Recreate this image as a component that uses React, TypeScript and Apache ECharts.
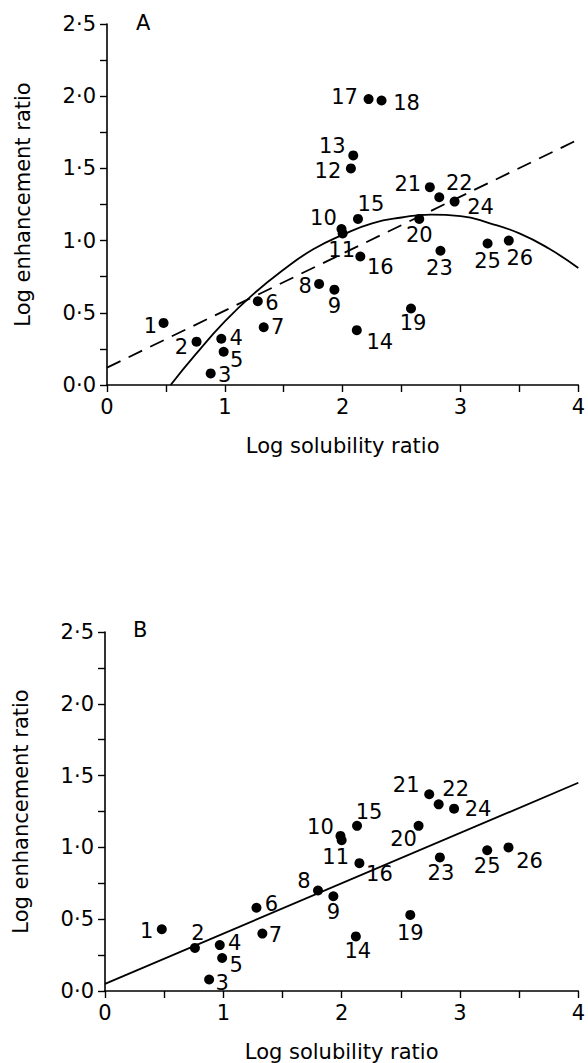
import React, { useEffect, useRef } from "react";
import * as echarts from "echarts";

// Compound numbers
const names = ["1","2","3","4","5","6","7","8","9","10","11","12","13","14","15","16","17","18","19","20","21","22","23","24","25","26"];
// Log solubility ratio
const xVals = [0.48, 0.76, 0.88, 0.97, 0.99, 1.28, 1.33, 1.80, 1.93, 1.99, 2.00, 2.07, 2.09, 2.12, 2.13, 2.15, 2.22, 2.33, 2.58, 2.65, 2.74, 2.82, 2.83, 2.95, 3.23, 3.41];
// Log enhancement ratio
const yVals = [0.43, 0.30, 0.08, 0.32, 0.23, 0.58, 0.40, 0.70, 0.66, 1.08, 1.05, 1.50, 1.59, 0.38, 1.15, 0.89, 1.98, 1.97, 0.53, 1.15, 1.37, 1.30, 0.93, 1.27, 0.98, 1.00];
// Compounds left out of panel B
const excludedB = ["12", "13", "17", "18"];

// Panel A fitted curve
const curveAx = [0.54, 0.75, 1.0, 1.25, 1.5, 1.75, 2.0, 2.25, 2.5, 2.75, 3.0, 3.25, 3.5, 3.75, 4.0];
const curveAy = [0.0, 0.21, 0.44, 0.635, 0.80, 0.94, 1.04, 1.12, 1.16, 1.18, 1.17, 1.12, 1.05, 0.945, 0.81];
// Panel A dashed line end points
const dashAx = [0, 4];
const dashAy = [0.12, 1.70];
// Panel B regression line end points
const lineBx = [0, 4];
const lineBy = [0.05, 1.45];

const xTicks = [0, 1, 2, 3, 4];
const yTicks = [0, 0.5, 1.0, 1.5, 2.0, 2.5];

// label offsets (style only), pixels from the dot centre
const labelOffA: Record<string, number[]> = {
  "1": [-13, 3], "2": [-15, 5], "3": [14, 2], "4": [15, -1], "5": [13, 8], "6": [14, 2], "7": [14, 0],
  "8": [-14, 2], "9": [0, 16], "10": [-18, -11], "11": [-1, 17], "12": [-23, 3], "13": [-21, -9],
  "14": [23, 12], "15": [13, -15], "16": [20, 11], "17": [-24, -2], "18": [25, 2], "19": [2, 15],
  "20": [0, 16], "21": [-22, -3], "22": [20, -14], "23": [-1, 17], "24": [26, 5], "25": [0, 18], "26": [11, 17],
};
const labelOffB: Record<string, number[]> = {
  "1": [-15, 2], "2": [3, -15], "3": [13, 3], "4": [15, -2], "5": [14, 7], "6": [15, -4], "7": [13, 1],
  "8": [-14, -9], "9": [0, 16], "10": [-20, -9], "11": [-6, 17], "14": [2, 15], "15": [12, -14],
  "16": [20, 11], "19": [0, 18], "20": [-15, 13], "21": [-23, -9], "22": [17, -15], "23": [1, 16],
  "24": [24, 0], "25": [0, 16], "26": [21, 14],
};

const FONT = "'DejaVu Sans', 'Liberation Sans', Arial, sans-serif";

function fmtY(v: number) {
  if (Math.abs(v * 2 - Math.round(v * 2)) > 1e-6) return "";
  return yTicks.some((t) => Math.abs(t - v) < 1e-6) ? v.toFixed(1).replace(".", "\u00B7") : "";
}
function fmtX(v: number) {
  return xTicks.includes(v) ? String(v) : "";
}

function makeX(gridIndex: number) {
  return {
    type: "value", gridIndex, min: 0, max: 4, interval: 0.5,
    name: "Log solubility ratio", nameLocation: "middle", nameGap: 50,
    nameTextStyle: { fontSize: 21, color: "#000", fontFamily: FONT },
    axisLine: { show: true, onZero: false, lineStyle: { color: "#000", width: 1.6 } },
    axisTick: { show: true, length: 7, lineStyle: { color: "#000", width: 1.4 } },
    axisLabel: { formatter: fmtX, fontSize: 21, color: "#000", fontFamily: FONT, margin: 11 },
    splitLine: { show: false },
  };
}
function makeY(gridIndex: number) {
  return {
    type: "value", gridIndex, min: 0, max: 2.5, interval: 0.25,
    name: "Log enhancement ratio", nameLocation: "middle", nameGap: 74,
    nameTextStyle: { fontSize: 21, color: "#000", fontFamily: FONT },
    axisLine: { show: true, onZero: false, lineStyle: { color: "#000", width: 1.6 } },
    axisTick: { show: true, length: 7, lineStyle: { color: "#000", width: 1.4 } },
    axisLabel: { formatter: fmtY, fontSize: 21, color: "#000", fontFamily: FONT, margin: 11 },
    splitLine: { show: false },
  };
}

function scatterData(offsets: Record<string, number[]>, exclude: string[]) {
  const out: any[] = [];
  names.forEach((n, i) => {
    if (exclude.includes(n)) return;
    out.push({
      name: n,
      value: [xVals[i], yVals[i]],
      label: { offset: offsets[n] || [12, 0] },
    });
  });
  return out;
}

export default function App() {
  const ref = useRef<HTMLDivElement>(null);
  useEffect(() => {
    if (!ref.current) return;
    const chart = echarts.init(ref.current, undefined, { renderer: "svg" });
    const labelStyle = {
      show: true, position: "inside", formatter: "{b}", color: "#000",
      fontSize: 21, fontFamily: FONT,
    };
    chart.setOption({
      animation: false,
      backgroundColor: "#fff",
      grid: [
        { left: 107, top: 24, width: 478, height: 361 },
        { left: 105, top: 632, width: 478, height: 360 },
      ],
      xAxis: [makeX(0), makeX(1)],
      yAxis: [makeY(0), makeY(1)],
      graphic: [
        { type: "text", left: 136, top: 12, style: { text: "A", fontSize: 21, fill: "#000", fontFamily: FONT } },
        { type: "text", left: 133, top: 619, style: { text: "B", fontSize: 21, fill: "#000", fontFamily: FONT } },
      ],
      series: [
        {
          type: "line", xAxisIndex: 0, yAxisIndex: 0, smooth: true, symbol: "none",
          data: curveAx.map((x, i) => [x, curveAy[i]]),
          lineStyle: { color: "#000", width: 1.8 }, silent: true,
        },
        {
          type: "line", xAxisIndex: 0, yAxisIndex: 0, symbol: "none",
          data: dashAx.map((x, i) => [x, dashAy[i]]),
          lineStyle: { color: "#000", width: 1.8, type: [15, 9] }, silent: true,
        },
        {
          type: "scatter", xAxisIndex: 0, yAxisIndex: 0, symbolSize: 10,
          itemStyle: { color: "#000", opacity: 1 }, label: labelStyle,
          data: scatterData(labelOffA, []),
        },
        {
          type: "line", xAxisIndex: 1, yAxisIndex: 1, symbol: "none",
          data: lineBx.map((x, i) => [x, lineBy[i]]),
          lineStyle: { color: "#000", width: 1.8 }, silent: true,
        },
        {
          type: "scatter", xAxisIndex: 1, yAxisIndex: 1, symbolSize: 10,
          itemStyle: { color: "#000", opacity: 1 }, label: labelStyle,
          data: scatterData(labelOffB, excludedB),
        },
      ],
    });
    return () => chart.dispose();
  }, []);
  return (
    <div
      ref={ref}
      style={{ position: "absolute", left: 0, top: 0, width: 588, height: 1063 }}
    />
  );
}
